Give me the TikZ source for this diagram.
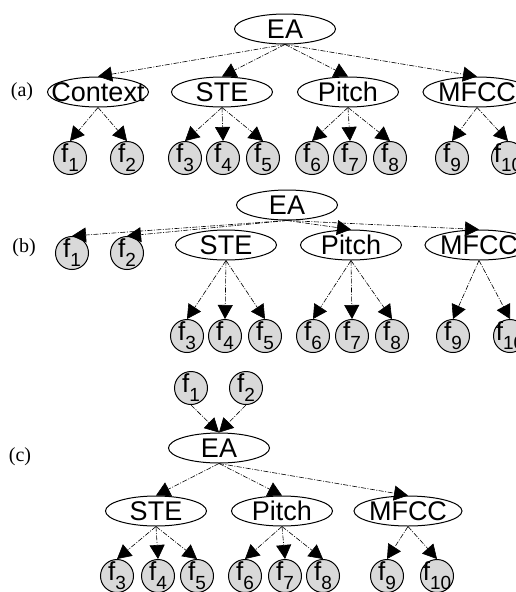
\documentclass[tikz,border=0pt]{standalone}
\usepackage{fontspec}
\setmainfont{Liberation Serif}
\newfontfamily\hv{Liberation Sans}
\usetikzlibrary{shapes.geometric,arrows.meta}
\newcommand\fl[1]{\makebox[0pt][c]{\fontsize{26}{26}\selectfont f\raisebox{-0.34em}{\fontsize{19}{19}\selectfont #1}}}
\newcommand\el[1]{\makebox[0pt][c]{\fontsize{27}{27}\selectfont #1}}
\tikzset{
  feat/.style={ellipse,draw,line width=1pt,fill=white,minimum width=101pt,minimum height=30pt,inner sep=0pt,font=\hv},
  leaf/.style={circle,draw,line width=1pt,fill=gray!30,minimum size=33pt,inner sep=0pt,font=\hv},
  tag/.style={font=\fontsize{20}{20}\selectfont},
  link/.style={line width=0.6pt,dash pattern=on 5pt off 1.5pt on 1pt off 1.5pt,-{Triangle[length=14pt,width=15pt]}}
}
\begin{document}
\begin{tikzpicture}[x=1pt,y=-1pt]
\useasboundingbox (0,0) rectangle (516,592);
\clip (0,0) rectangle (516,592);
% ---------- (a) ----------
\node[tag] (la) at (22,92) {(a)};
\node[feat] (aEA) at (285,29) {\el{EA}};
\node[feat] (aC) at (98,92) {\el{Context}};
\node[feat] (aS) at (222,92) {\el{STE}};
\node[feat] (aP) at (348,92) {\el{Pitch}};
\node[feat,minimum width=108pt] (aM) at (477,92) {\el{MFCC}};
\foreach \n/\x in {1/70,2/127,3/185,4/223,5/263,6/312,7/350,8/390,9/452,10/508}
  \node[leaf] (a\n) at (\x,158) {\fl{\n}};
\foreach \c in {aC,aS,aP,aM} \draw[link] (aEA.south) -- (\c.north);
\foreach \l in {1,2} \draw[link] (aC.south) -- (a\l.north);
\foreach \l in {3,4,5} \draw[link] (aS.south) -- (a\l.north);
\foreach \l in {6,7,8} \draw[link] (aP.south) -- (a\l.north);
\foreach \l in {9,10} \draw[link] (aM.south) -- (a\l.north);
% ---------- (b) ----------
\node[tag] (lb) at (24,248) {(b)};
\node[feat] (bEA) at (287,205) {\el{EA}};
\node[leaf] (b1) at (72,253) {\fl{1}};
\node[leaf] (b2) at (127,253) {\fl{2}};
\node[feat] (bS) at (226,245) {\el{STE}};
\node[feat] (bP) at (351,245) {\el{Pitch}};
\node[feat,minimum width=108pt] (bM) at (479,245) {\el{MFCC}};
\foreach \n/\x in {3/187,4/225,5/265,6/313,7/352,8/392,9/453,10/510}
  \node[leaf] (b\n) at (\x,336) {\fl{\n}};
\foreach \c in {b1,b2,bP,bM} \draw[link] (bEA.south) -- (\c.north);
\foreach \l in {3,4,5} \draw[link] (bS.south) -- (b\l.north);
\foreach \l in {6,7,8} \draw[link] (bP.south) -- (b\l.north);
\foreach \l in {9,10} \draw[link] (bM.south) -- (b\l.north);
% ---------- (c) ----------
\node[tag] (lc) at (20,457) {(c)};
\node[leaf] (c1) at (191,388) {\fl{1}};
\node[leaf] (c2) at (246,388) {\fl{2}};
\node[feat] (cEA) at (219,448) {\el{EA}};
\node[feat] (cS) at (156,511) {\el{STE}};
\node[feat] (cP) at (282,511) {\el{Pitch}};
\node[feat,minimum width=108pt] (cM) at (408,511) {\el{MFCC}};
\foreach \n/\x in {3/117,4/158,5/197,6/245,7/285,8/323,9/387,10/437}
  \node[leaf] (c\n) at (\x,576) {\fl{\n}};
\foreach \p in {c1,c2} \draw[link] (\p.south) -- (cEA.north);
\foreach \c in {cS,cP,cM} \draw[link] (cEA.south) -- (\c.north);
\foreach \l in {3,4,5} \draw[link] (cS.south) -- (c\l.north);
\foreach \l in {6,7,8} \draw[link] (cP.south) -- (c\l.north);
\foreach \l in {9,10} \draw[link] (cM.south) -- (c\l.north);
\end{tikzpicture}
\end{document}
